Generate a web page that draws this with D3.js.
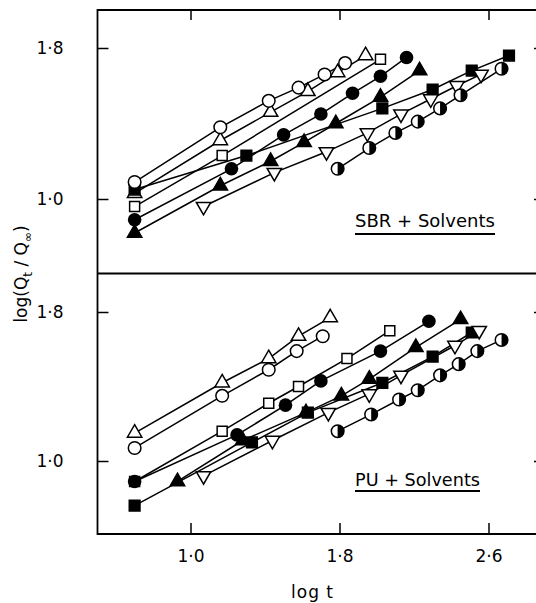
<!DOCTYPE html>
<html lang="en">
<head>
<meta charset="UTF-8">
<title>log(Qt/Qinf) vs log t</title>
<script src="https://d3js.org/d3.v7.min.js"></script>
<style>
    body { margin: 0; background: #fff; }
    text { font-family: "DejaVu Sans", sans-serif; fill: #000; }
</style>
</head>
<body>
<svg id="main" width="536" height="603"></svg>
<script>
// tick values
let xTicks = [1.0, 1.8, 2.6];
let yTicks = [1.0, 1.8];

// SBR + Solvents  [log t, log(Qt/Qinf)]
let sbrOpenTriangle = [[0.70,1.03],[1.16,1.31],[1.43,1.46],[1.63,1.57],[1.79,1.67],[1.94,1.76]];
let sbrFilledSquare = [[0.70,1.05],[1.30,1.23],[2.03,1.48],[2.30,1.58],[2.51,1.68],[2.71,1.76]];
let sbrOpenCircle = [[0.70,1.09],[1.16,1.38],[1.42,1.52],[1.58,1.59],[1.72,1.66],[1.83,1.72]];
let sbrOpenSquare = [[0.70,0.96],[1.17,1.23],[2.02,1.74]];
let sbrFilledCircle = [[0.70,0.89],[1.22,1.16],[1.50,1.34],[1.70,1.45],[1.87,1.56],[2.02,1.65],[2.16,1.75]];
let sbrFilledTriangle = [[0.70,0.82],[1.16,1.07],[1.43,1.20],[1.61,1.30],[1.78,1.40],[2.02,1.54],[2.23,1.68]];
let sbrInvTriangle = [[1.07,0.96],[1.45,1.14],[1.73,1.25],[1.95,1.35],[2.13,1.45],[2.29,1.53],[2.43,1.60],[2.56,1.66]];
let sbrHalfCircle = [[1.79,1.16],[1.96,1.27],[2.10,1.35],[2.22,1.41],[2.34,1.48],[2.45,1.55],[2.67,1.69]];

// PU + Solvents
let puOpenTriangle = [[0.70,1.15],[1.17,1.42],[1.42,1.55],[1.58,1.67],[1.75,1.77]];
let puOpenCircle = [[0.70,1.07],[1.17,1.35],[1.42,1.49],[1.57,1.59],[1.71,1.67]];
let puOpenSquare = [[0.70,0.89],[1.17,1.16],[1.42,1.31],[1.58,1.40],[1.84,1.55],[2.07,1.70]];
let puFilledCircle = [[0.70,0.89],[1.25,1.14],[1.51,1.30],[1.70,1.43],[2.02,1.59],[2.28,1.75]];
let puFilledSquare = [[0.70,0.76],[1.33,1.10],[1.63,1.26],[2.03,1.42],[2.30,1.56],[2.51,1.69]];
let puFilledTriangle = [[0.93,0.89],[1.28,1.11],[1.62,1.26],[1.81,1.35],[1.96,1.44],[2.21,1.61],[2.45,1.76]];
let puInvTriangle = [[1.07,0.92],[1.44,1.11],[1.74,1.26],[1.96,1.36],[2.13,1.46],[2.42,1.62],[2.55,1.70]];
let puHalfCircle = [[1.79,1.16],[1.97,1.25],[2.12,1.33],[2.22,1.38],[2.34,1.46],[2.44,1.52],[2.54,1.59],[2.67,1.65]];

let svg = d3.select('svg#main');

// frame edges (pixels)
let fLeft = 97.5, fRight = 540, fTop = 10, fMid = 273.5, fBottom = 534;

let x = d3.scaleLinear().domain([1.0, 1.8]).range([190.5, 339.5]);
let yTop = d3.scaleLinear().domain([1.0, 1.8]).range([199, 48]);
let yBot = d3.scaleLinear().domain([1.0, 1.8]).range([461, 312]);

let fmt = d => d.toFixed(1).replace('.', '\u00B7');

let panels = [
    {y: yTop, label: 'SBR + Solvents', lx: 355, ly: 227, lw: 140, uy: 234, series: [
        [sbrOpenTriangle, 'triOpen'], [sbrFilledSquare, 'sqFilled'], [sbrOpenCircle, 'circOpen'],
        [sbrOpenSquare, 'sqOpen'], [sbrFilledCircle, 'circFilled'], [sbrFilledTriangle, 'triFilled'],
        [sbrInvTriangle, 'triDown'], [sbrHalfCircle, 'circHalf']]},
    {y: yBot, label: 'PU + Solvents', lx: 355, ly: 485.5, lw: 125, uy: 491, series: [
        [puOpenTriangle, 'triOpen'], [puOpenCircle, 'circOpen'], [puOpenSquare, 'sqOpen'],
        [puFilledCircle, 'circFilled'], [puFilledSquare, 'sqFilled'], [puFilledTriangle, 'triFilled'],
        [puInvTriangle, 'triDown'], [puHalfCircle, 'circHalf']]}
];

function drawMarker(g, type) {
    if (type == 'circOpen') {
        g.append('circle').attr('r', 6.3).attr('fill', 'white').attr('stroke', 'black').attr('stroke-width', 1.5);
    } else if (type == 'circFilled') {
        g.append('circle').attr('r', 6.8).attr('fill', 'black');
    } else if (type == 'circHalf') {
        g.append('circle').attr('r', 6.3).attr('fill', 'white').attr('stroke', 'black').attr('stroke-width', 1.5);
        g.append('path').attr('d', 'M0,-6.3A6.3,6.3 0 0 1 0,6.3Z').attr('fill', 'black');
    } else if (type == 'sqOpen' || type == 'sqFilled') {
        let filled = type == 'sqFilled';
        g.append('path').attr('d', d3.symbol(d3.symbolSquare, filled ? 115 : 100)())
            .attr('fill', filled ? 'black' : 'white').attr('stroke', 'black').attr('stroke-width', 1.5);
    } else {
        let filled = type == 'triFilled';
        g.append('path').attr('d', d3.symbol(d3.symbolTriangle, 90)())
            .attr('transform', type == 'triDown' ? 'rotate(180)' : null)
            .attr('fill', filled ? 'black' : 'white').attr('stroke', 'black').attr('stroke-width', 1.5);
    }
}

panels.forEach(function (p) {
    let line = d3.line().x(d => x(d[0])).y(d => p.y(d[1]));
    let fig = svg.append('g');
    // lines first, markers on top
    p.series.forEach(function (s) {
        fig.append('path').attr('d', line(s[0]))
            .attr('fill', 'none').attr('stroke', 'black').attr('stroke-width', 1.5);
    });
    p.series.forEach(function (s) {
        s[0].forEach(function (d) {
            let m = fig.append('g').attr('transform', 'translate(' + x(d[0]) + ',' + p.y(d[1]) + ')');
            drawMarker(m, s[1]);
        });
    });

    // left axis ticks + labels
    svg.append('g').attr('transform', 'translate(' + fLeft + ',0)')
        .call(d3.axisLeft(p.y).tickValues(yTicks).tickSize(-11).tickPadding(34).tickFormat(fmt))
        .call(g => g.select('.domain').remove())
        .call(g => g.selectAll('line').attr('stroke-width', 1.5))
        .call(g => g.selectAll('text').attr('font-size', 17).attr('font-family', null));
    // right side short ticks
    svg.append('g').attr('transform', 'translate(' + fRight + ',0)')
        .call(d3.axisRight(p.y).tickValues(yTicks).tickSize(-6).tickFormat(''))
        .call(g => g.select('.domain').remove())
        .call(g => g.selectAll('line').attr('stroke-width', 1.3));

    // panel label with underline
    svg.append('text').attr('x', p.lx).attr('y', p.ly).attr('font-size', 18)
        .attr('textLength', p.lw).attr('lengthAdjust', 'spacingAndGlyphs').text(p.label);
    svg.append('line').attr('x1', p.lx).attr('x2', p.lx + p.lw).attr('y1', p.uy).attr('y2', p.uy)
        .attr('stroke', 'black').attr('stroke-width', 1.8);
});

// top ticks
svg.append('g').attr('transform', 'translate(0,' + fTop + ')')
    .call(d3.axisTop(x).tickValues(xTicks).tickSize(-10).tickFormat(''))
    .call(g => g.select('.domain').remove())
    .call(g => g.selectAll('line').attr('stroke-width', 1.5));
// bottom axis
svg.append('g').attr('transform', 'translate(0,' + fBottom + ')')
    .call(d3.axisBottom(x).tickValues(xTicks).tickSize(-11).tickPadding(16).tickFormat(fmt))
    .call(g => g.select('.domain').remove())
    .call(g => g.selectAll('line').attr('stroke-width', 1.5))
    .call(g => g.selectAll('text').attr('font-size', 17).attr('font-family', null));

// frame
let frame = svg.append('g').attr('stroke', 'black').attr('stroke-width', 1.8).attr('fill', 'none');
frame.append('path').attr('d', 'M' + fRight + ',' + fTop + 'H' + fLeft + 'V' + fBottom + 'H' + fRight);
frame.append('line').attr('x1', fLeft).attr('x2', fRight).attr('y1', fMid).attr('y2', fMid);

// axis titles
svg.append('text').attr('x', 312).attr('y', 598).attr('font-size', 17)
    .attr('text-anchor', 'middle').attr('textLength', 42).text('log t');
let yl = svg.append('text').attr('transform', 'translate(27,274) rotate(-90)')
    .attr('text-anchor', 'middle').attr('font-size', 17);
yl.append('tspan').text('log(Q');
yl.append('tspan').attr('font-size', 12).attr('dy', 5).text('t');
yl.append('tspan').attr('dy', -5).text(' / Q');
yl.append('tspan').attr('font-size', 12).attr('dy', 5).text('\u221E');
yl.append('tspan').attr('dy', -5).text(')');
</script>
</body>
</html>
